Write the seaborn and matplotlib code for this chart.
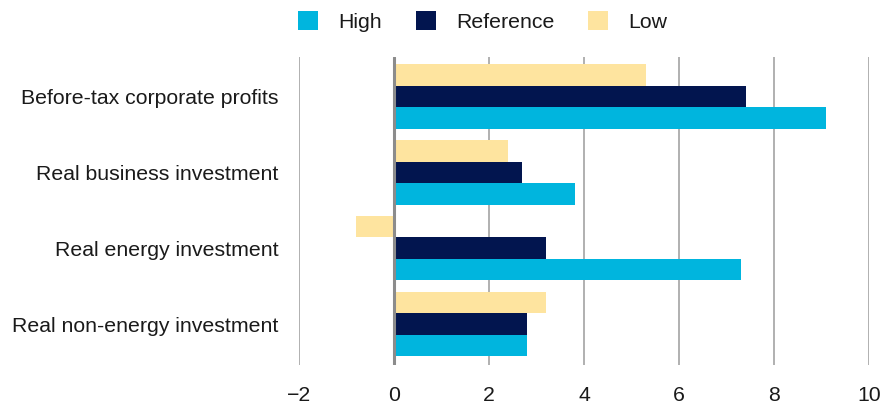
import matplotlib
matplotlib.use("Agg")
import matplotlib.pyplot as plt
import seaborn as sns
import pandas as pd
from matplotlib.patches import Patch

categories = [
    "Before-tax corporate profits",
    "Real business investment",
    "Real energy investment",
    "Real non-energy investment",
]
high = [9.1, 3.8, 7.3, 2.8]
reference = [7.4, 2.7, 3.2, 2.8]
low = [5.3, 2.4, -0.8, 3.2]
x_ticks = [-2, 0, 2, 4, 6, 8, 10]

colors = {"High": "#00B5DE", "Reference": "#02154F", "Low": "#FEE49F"}

rows = []
for name, vals in (("Low", low), ("Reference", reference), ("High", high)):
    for cat, v in zip(categories, vals):
        rows.append({"category": cat, "scenario": name, "value": v})
df = pd.DataFrame(rows)

sns.set_theme(style="white")
plt.rcParams["font.family"] = ["Liberation Sans", "DejaVu Sans"]
FS = 15.3

fig = plt.figure(figsize=(8.86, 4.09), dpi=100)
ax = fig.add_axes([0.3375, 0.1076, 0.6435, 0.753])

# vertical grid drawn under the bars
for t in x_ticks:
    if t == 0:
        continue
    ax.axvline(t, color="#b0b0b0", lw=1.4, zorder=0)
ax.axvline(0, color="#8c8c8c", lw=2.2, zorder=3)

sns.barplot(
    data=df, y="category", x="value", hue="scenario",
    hue_order=["Low", "Reference", "High"], order=categories,
    palette=colors, orient="h", width=0.85, saturation=1,
    errorbar=None, legend=False, ax=ax, zorder=2,
)
for p in ax.patches:
    p.set_edgecolor("none")

ax.set_xlim(-2, 10)
ax.set_ylim(3.54, -0.52)
ax.set_xticks(x_ticks)
ax.set_xlabel("")
ax.set_ylabel("")
for s in ax.spines.values():
    s.set_visible(False)
ax.tick_params(axis="x", length=0, pad=15, labelsize=FS, colors="#1a1a1a")
ax.tick_params(axis="y", length=0, pad=15, labelsize=FS, colors="#1a1a1a")

handles = [Patch(facecolor=colors[k], edgecolor="none") for k in ("High", "Reference", "Low")]
fig.legend(
    handles, ["High", "Reference", "Low"], ncol=3, frameon=False,
    loc="center", bbox_to_anchor=(0.545, 0.947), fontsize=FS,
    handlelength=0.94, handleheight=0.94, handletextpad=0.94,
    columnspacing=1.6, labelcolor="#1a1a1a",
)

fig.savefig("out.png", dpi=100)
